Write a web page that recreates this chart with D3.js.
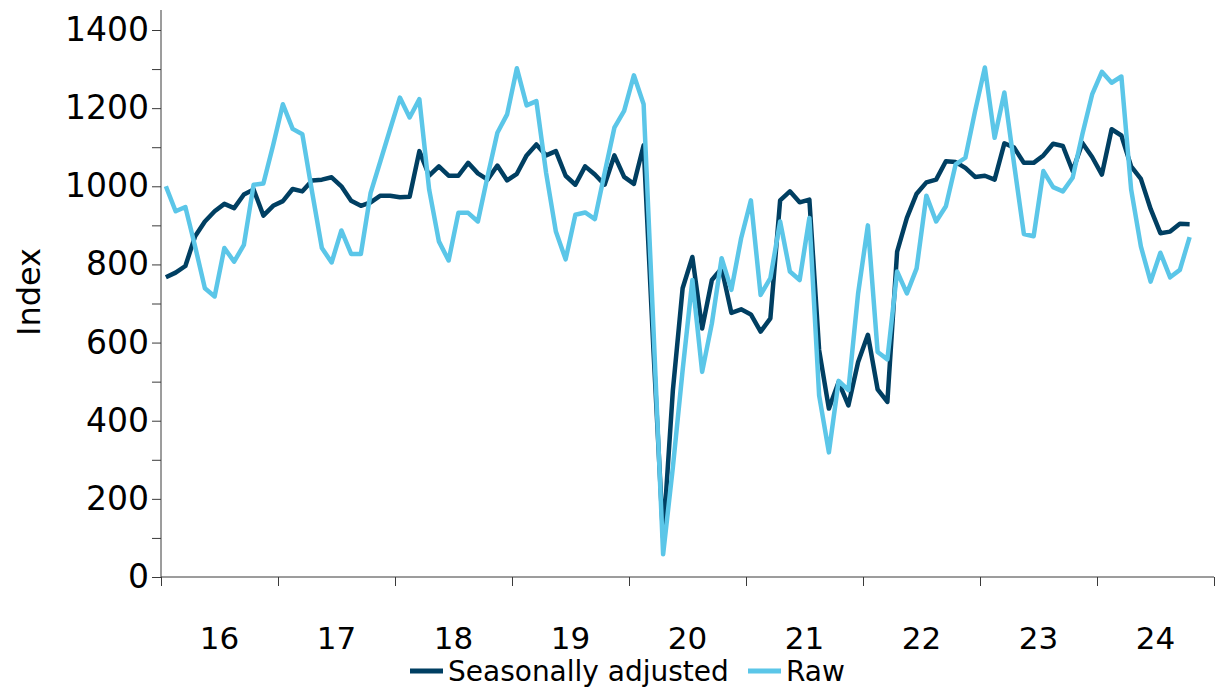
<!DOCTYPE html>
<html>
<head>
<meta charset="utf-8">
<script src="https://cdn.jsdelivr.net/npm/d3@7"></script>
<style>
  html, body { margin: 0; padding: 0; background: #fff; }
  svg { display: block; font-family: "DejaVu Sans", Verdana, sans-serif; }
</style>
</head>
<body>
<svg id="chart" width="1221" height="688"></svg>
<script>
// Monthly index, Jan 2016 – Oct 2024
const years = ["16", "17", "18", "19", "20", "21", "22", "23", "24"];
const seasonallyAdjusted = [
  767, 779, 796, 872, 910, 936, 955, 944, 979, 992, 925, 950,
  962, 993, 987, 1015, 1017, 1023, 1000, 963, 950, 959, 976, 976,
  972, 973, 1090, 1027, 1051, 1027, 1027, 1060, 1033, 1017, 1053, 1015,
  1032, 1079, 1107, 1079, 1090, 1027, 1004, 1051, 1030, 1004, 1079, 1024,
  1006, 1105, 585, 100, 478, 739, 819, 636, 760, 790, 676, 685,
  672, 628, 662, 964, 987, 959, 966, 581, 431, 499, 439, 550,
  620, 480, 448, 833, 919, 981, 1010, 1017, 1064, 1062, 1047, 1024,
  1027, 1017, 1110, 1099, 1060, 1060, 1079, 1109, 1103, 1039, 1111, 1075,
  1030, 1146, 1130, 1051, 1019, 942, 880, 884, 904, 903
];
const raw = [
  1000, 936, 947, 846, 739, 718, 842, 807, 850, 1004, 1007, 1105,
  1210, 1147, 1133, 985, 842, 805, 887, 827, 827, 983, 1064, 1146,
  1227, 1176, 1223, 992, 859, 810, 932, 932, 910, 1026, 1137, 1184,
  1302, 1207, 1218, 1034, 884, 813, 927, 933, 916, 1034, 1150, 1193,
  1284, 1210, 640, 58, 281, 529, 760, 525, 649, 816, 735, 867,
  964, 722, 765, 910, 782, 760, 919, 465, 319, 502, 478, 726,
  900, 576, 557, 782, 726, 790, 976, 910, 949, 1056, 1073, 1193,
  1304, 1124, 1240, 1056, 878, 872, 1039, 998, 987, 1022, 1133, 1235,
  1293, 1265, 1281, 992, 846, 756, 830, 767, 786, 870
];
const yTicks = [0, 100, 200, 300, 400, 500, 600, 700, 800, 900, 1000, 1100, 1200, 1300, 1400];
const seriesNames = ["Seasonally adjusted", "Raw"];
const seriesColors = ["#003f62", "#5bc6e8"];

const svg = d3.select("#chart");
const plotLeft = 161, plotRight = 1214, plotTop = 30, plotBottom = 577;

const x = d3.scaleLinear().domain([0, years.length * 12]).range([plotLeft, plotRight]);
const y = d3.scaleLinear().domain([0, 1400]).range([plotBottom, plotTop]);

const axisColor = "#3a3a3a";

// y axis: ticks every 100, labels every 200
const yAxis = svg.append("g")
  .attr("transform", `translate(${plotLeft},0)`)
  .call(d3.axisLeft(y).tickValues(yTicks).tickSize(9).tickPadding(3)
    .tickFormat(d => d % 200 === 0 ? d : ""));
yAxis.select(".domain").remove();
yAxis.append("line").attr("x1", 0).attr("x2", 0).attr("y1", 10).attr("y2", plotBottom)
  .attr("stroke", axisColor);
yAxis.selectAll(".tick line").attr("stroke", axisColor);
yAxis.selectAll("text").attr("fill", "#000").style("font-size", "33px")
  .style("font-family", "DejaVu Sans, Verdana, sans-serif");

// x axis: ticks at year boundaries, labels centred within each year
const xAxis = svg.append("g")
  .attr("transform", `translate(0,${plotBottom})`)
  .call(d3.axisBottom(x).tickValues(d3.range(0, years.length * 12 + 1, 12)).tickSize(9).tickFormat(""));
xAxis.select(".domain").attr("stroke", axisColor).attr("d", `M${plotLeft},0H${plotRight}`);
xAxis.selectAll(".tick line").attr("stroke", axisColor);

svg.append("g").selectAll("text").data(years).join("text")
  .attr("x", (d, i) => x(i * 12 + 6))
  .attr("y", 649)
  .attr("text-anchor", "middle")
  .style("font-size", "31px")
  .attr("fill", "#000")
  .text(d => d);

// y axis title
svg.append("text")
  .attr("transform", "translate(40,292) rotate(-90)")
  .attr("text-anchor", "middle")
  .style("font-size", "32px")
  .attr("fill", "#000")
  .text("Index");

// series lines
const line = d3.line()
  .x((d, i) => x(i + 0.5))
  .y(d => y(d));

[seasonallyAdjusted, raw].forEach((vals, k) => {
  svg.append("path")
    .datum(vals)
    .attr("d", line)
    .attr("fill", "none")
    .attr("stroke", seriesColors[k])
    .attr("stroke-width", 4.5)
    .attr("stroke-linejoin", "round");
});

// legend
const legendItems = [
  { name: seriesNames[0], color: seriesColors[0], x: 410 },
  { name: seriesNames[1], color: seriesColors[1], x: 748 }
];
const lg = svg.append("g");
legendItems.forEach(it => {
  lg.append("line")
    .attr("x1", it.x).attr("x2", it.x + 33)
    .attr("y1", 671).attr("y2", 671)
    .attr("stroke", it.color).attr("stroke-width", 5);
  lg.append("text")
    .attr("x", it.x + 38).attr("y", 681)
    .style("font-size", "28px")
    .attr("fill", "#000")
    .text(it.name);
});
</script>
</body>
</html>
